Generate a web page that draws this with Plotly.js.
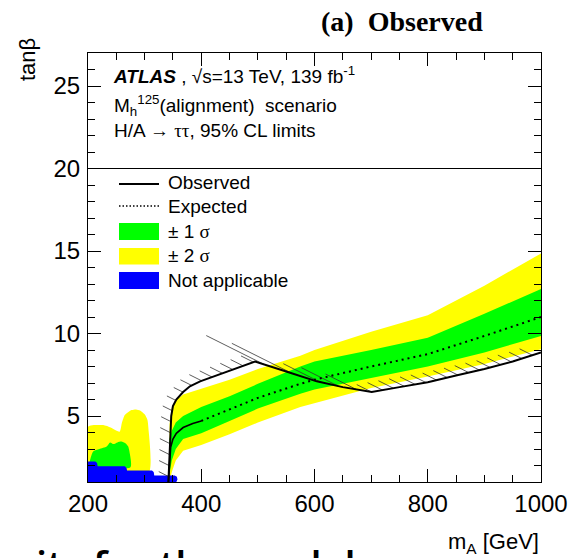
<!DOCTYPE html>
<html><head><meta charset="utf-8">
<script src="https://cdn.plot.ly/plotly-3.0.1.min.js"></script>
<style>html,body{margin:0;padding:0;background:#fff;overflow:hidden}#chart{width:569px;height:558px}</style>
</head><body><div id="chart"></div>
<script>
// ---------------- data ----------------
// Observed limit (solid)
const obsX = [342, 343.5, 345, 347, 350, 356, 368, 380, 398, 450, 495, 550, 604, 650, 701, 750, 800, 850, 900, 950, 1000];
const obsY = [1.0, 2.5, 4.0, 5.0, 5.6, 6.0, 6.45, 6.8, 7.1, 7.75, 8.3, 7.7, 7.1, 6.75, 6.45, 6.75, 7.05, 7.45, 7.85, 8.3, 8.85];
// Expected limit (dotted)
const expX = [342, 344, 346, 350, 356, 368, 385, 400, 450, 500, 575, 600, 700, 800, 900, 1000];
const expY = [1.0, 2.2, 3.1, 3.6, 3.95, 4.3, 4.55, 4.7, 5.4, 6.1, 6.95, 7.2, 8.0, 8.75, 9.85, 11.0];
// Expected bands, main region
const bandX   = [344, 348, 355, 368, 400, 450, 500, 575, 600, 700, 800, 900, 1000];
const sig1Up  = [3.6, 4.1, 4.6, 5.0, 5.55, 6.2, 6.95, 8.0, 8.3, 9.0, 9.75, 11.2, 12.7];
const sig1Dn  = [1.5, 2.3, 3.0, 3.6, 3.95, 4.7, 5.45, 6.35, 6.6, 7.3, 8.0, 8.85, 9.85];
const sig2Up  = [4.5, 5.5, 5.95, 6.3, 6.65, 7.2, 7.85, 8.65, 9.0, 10.1, 11.1, 12.9, 14.85];
const sig2Dn  = [1.0, 1.6, 2.3, 2.9, 3.25, 3.9, 4.6, 5.55, 5.8, 6.7, 7.4, 8.15, 9.05];
// Low-mass islands of the bands (outline)
const low2X = [200, 200, 210, 227, 240, 248, 256, 260, 265, 277, 285, 292, 300, 305, 306.6, 306.6, 200];
const low2Y = [1.5, 4.35, 4.45, 4.45, 4.3, 4.15, 4.05, 4.6, 5.06, 5.36, 5.4, 5.33, 5.1, 4.76, 4.3, 1.5, 1.5];
const low1X = [202, 203.5, 209, 220, 233, 239, 245, 252, 259, 266, 271, 274, 275, 202];
const low1Y = [2.0, 2.3, 2.85, 3.0, 3.15, 3.4, 3.3, 3.4, 3.45, 3.35, 3.15, 2.7, 1.9, 1.9];
// "Not applicable" region (outline)
const naX = [200, 200, 213, 216, 217, 265, 268, 269, 313, 316, 317, 353, 357, 358, 356, 200];
const naY = [1.0, 2.25, 2.25, 2.15, 1.95, 1.95, 1.85, 1.7, 1.7, 1.6, 1.4, 1.4, 1.32, 1.15, 1.0, 1.0];
// axis ticks
const xTicks = [200, 400, 600, 800, 1000];
const yTicks = [5, 10, 15, 20, 25];
const legendLabels = ['Observed', 'Expected', '\u00b1 1 <span style="font-family:Liberation Serif">\u03c3</span>', '\u00b1 2 <span style="font-family:Liberation Serif">\u03c3</span>', 'Not applicable'];

// ---------------- geometry helpers ----------------
const W = 569, H = 558, M = {l: 88, r: 28, t: 53, b: 76};
const xRange = [200, 1000], yRange = [1, 27];
const pw = W - M.l - M.r, ph = H - M.t - M.b;
const pxX = pw / (xRange[1] - xRange[0]), pxY = ph / (yRange[1] - yRange[0]);
const PX = px => (px - M.l) / pw;          // pixel -> paper x
const PY = py => (H - M.b - py) / ph;      // pixel -> paper y

// hatching on the excluded side of the observed line (computed from the data)
function hatch(xs, ys, spacing, depth, maxLen) {
  const pts = xs.map((x, i) => [(x - xRange[0]) * pxX, (ys[i] - yRange[0]) * pxY]);
  const u = [-2 / Math.sqrt(5), 1 / Math.sqrt(5)];
  const hx = [], hy = [];
  let carry = spacing / 2;
  for (let i = 0; i < pts.length - 1; i++) {
    const [x0, y0] = pts[i], [x1, y1] = pts[i + 1];
    const dx = x1 - x0, dy = y1 - y0, len = Math.hypot(dx, dy);
    const tx = dx / len, ty = dy / len;
    const cr = tx * u[1] - ty * u[0];
    const L = Math.min(maxLen, depth / Math.max(Math.abs(cr), 1e-3));
    const step = Math.max(spacing, 0.45 * L);
    let s = carry;
    while (s <= len) {
      const a = x0 + tx * s, b = y0 + ty * s;
      hx.push(xRange[0] + a / pxX, xRange[0] + (a + u[0] * L) / pxX, null);
      hy.push(yRange[0] + b / pxY, yRange[0] + (b + u[1] * L) / pxY, null);
      s += step;
    }
    carry = s - len;
  }
  return {hx, hy};
}
const H1 = hatch(obsX, obsY, 11, 10, 70);

const YEL = '#ffff00', GRN = '#00ff00', BLU = '#0000ff';
const traces = [
  {x: bandX.concat(bandX.slice().reverse()), y: sig2Up.concat(sig2Dn.slice().reverse()), fill: 'toself', fillcolor: YEL, line: {width: 0}, mode: 'lines', name: '\u00b1 2 \u03c3', hoverinfo: 'skip'},
  {x: low2X, y: low2Y, fill: 'toself', fillcolor: YEL, line: {width: 0, shape: 'spline', smoothing: 0.6}, mode: 'lines', showlegend: false, hoverinfo: 'skip'},
  {x: bandX.concat(bandX.slice().reverse()), y: sig1Up.concat(sig1Dn.slice().reverse()), fill: 'toself', fillcolor: GRN, line: {width: 0}, mode: 'lines', name: '\u00b1 1 \u03c3', hoverinfo: 'skip'},
  {x: low1X, y: low1Y, fill: 'toself', fillcolor: GRN, line: {width: 0, shape: 'spline', smoothing: 0.6}, mode: 'lines', showlegend: false, hoverinfo: 'skip'},
  {x: naX, y: naY, fill: 'toself', fillcolor: BLU, line: {width: 0}, mode: 'lines', name: 'Not applicable', hoverinfo: 'skip'},
  {x: H1.hx, y: H1.hy, mode: 'lines', line: {color: '#333', width: 0.8}, showlegend: false, hoverinfo: 'skip', connectgaps: false},
  {x: expX.filter(v => v <= 400), y: expY.filter((v, i) => expX[i] <= 400), mode: 'lines', line: {color: '#000', width: 1.6}, showlegend: false},
  {x: expX.filter(v => v >= 400), y: expY.filter((v, i) => expX[i] >= 400), mode: 'lines', line: {color: '#000', width: 2, dash: '2px,4px'}, name: 'Expected'},
  {x: obsX, y: obsY, mode: 'lines', line: {color: '#000', width: 2}, name: 'Observed'}
];

const F = 'Liberation Sans, Arial, sans-serif';
const ann = [];
function txt(text, px, py, opt) {
  ann.push(Object.assign({text, x: PX(px), y: PY(py), xref: 'paper', yref: 'paper', showarrow: false,
    xanchor: 'left', yanchor: 'middle', font: {family: F, size: 19, color: '#000'}}, opt || {}));
}
txt('(a)  Observed', 485, 22, {xanchor: 'right', font: {family: 'Liberation Serif, Times New Roman, serif', size: 28, weight: 'bold', color: '#000'}});
txt('<b><i>ATLAS</i></b> , \u221as=13 TeV, 139 fb<sup>-1</sup>', 111, 75);
txt('M<sub>h</sub><sup>125</sup>(alignment)  scenario', 112, 105);
txt('H/A \u2192 <span style="font-family:Liberation Serif">\u03c4\u03c4</span>, 95% CL limits', 112, 130);
const rowY = [182, 206, 231.5, 256, 280.5];
legendLabels.forEach((t, i) => txt(t, 166, rowY[i]));
txt('tan\u03b2', 27, 60, {xanchor: 'center', textangle: -90, font: {family: F, size: 22, color: '#000'}});
txt('m<sub>A</sub> [GeV]', 541, 543, {xanchor: 'right', font: {family: F, size: 22, color: '#000'}});
txt('its for the model', 34, 535, {yanchor: 'top', font: {family: 'Open Sans, sans-serif', size: 40, weight: 600, color: '#000'}});

const shapes = [
  {type: 'line', xref: 'paper', x0: 0, x1: 1, yref: 'y', y0: 20, y1: 20, line: {color: '#000', width: 1}},
  {type: 'line', xref: 'paper', yref: 'paper', x0: PX(119), x1: PX(159), y0: PY(184), y1: PY(184), line: {color: '#000', width: 2}},
  {type: 'line', xref: 'paper', yref: 'paper', x0: PX(119), x1: PX(159), y0: PY(206), y1: PY(206), line: {color: '#000', width: 1.5, dash: '1.5px,2px'}},
  {type: 'rect', xref: 'paper', yref: 'paper', x0: PX(119), x1: PX(159), y0: PY(223), y1: PY(240), fillcolor: GRN, line: {width: 0}},
  {type: 'rect', xref: 'paper', yref: 'paper', x0: PX(119), x1: PX(159), y0: PY(248), y1: PY(264.5), fillcolor: YEL, line: {width: 0}},
  {type: 'rect', xref: 'paper', yref: 'paper', x0: PX(119), x1: PX(159), y0: PY(272), y1: PY(289), fillcolor: BLU, line: {width: 0}}
];

const axCommon = {showgrid: false, zeroline: false, showline: true, linecolor: '#000', linewidth: 1, mirror: 'allticks',
  ticks: 'inside', ticklen: 13, tickwidth: 1, tickcolor: '#000', tickfont: {family: F, size: 24, color: '#000'}};
const layout = {
  width: W, height: H, margin: M, paper_bgcolor: '#fff', plot_bgcolor: '#fff', showlegend: false,
  xaxis: Object.assign({}, axCommon, {range: xRange, tickvals: xTicks, ticktext: xTicks.map(String), ticklabelstandoff: 0,
    minor: {dtick: 50, tick0: 200, ticks: 'inside', ticklen: 7, tickcolor: '#000', showgrid: false}}),
  yaxis: Object.assign({}, axCommon, {range: yRange, tickvals: yTicks, ticktext: yTicks.map(String), ticklabelstandoff: 2,
    minor: {dtick: 1, tick0: 0, ticks: 'inside', ticklen: 7, tickcolor: '#000', showgrid: false}}),
  annotations: ann, shapes: shapes
};
Plotly.newPlot('chart', traces, layout, {staticPlot: true, displayModeBar: false});
</script></body></html>
